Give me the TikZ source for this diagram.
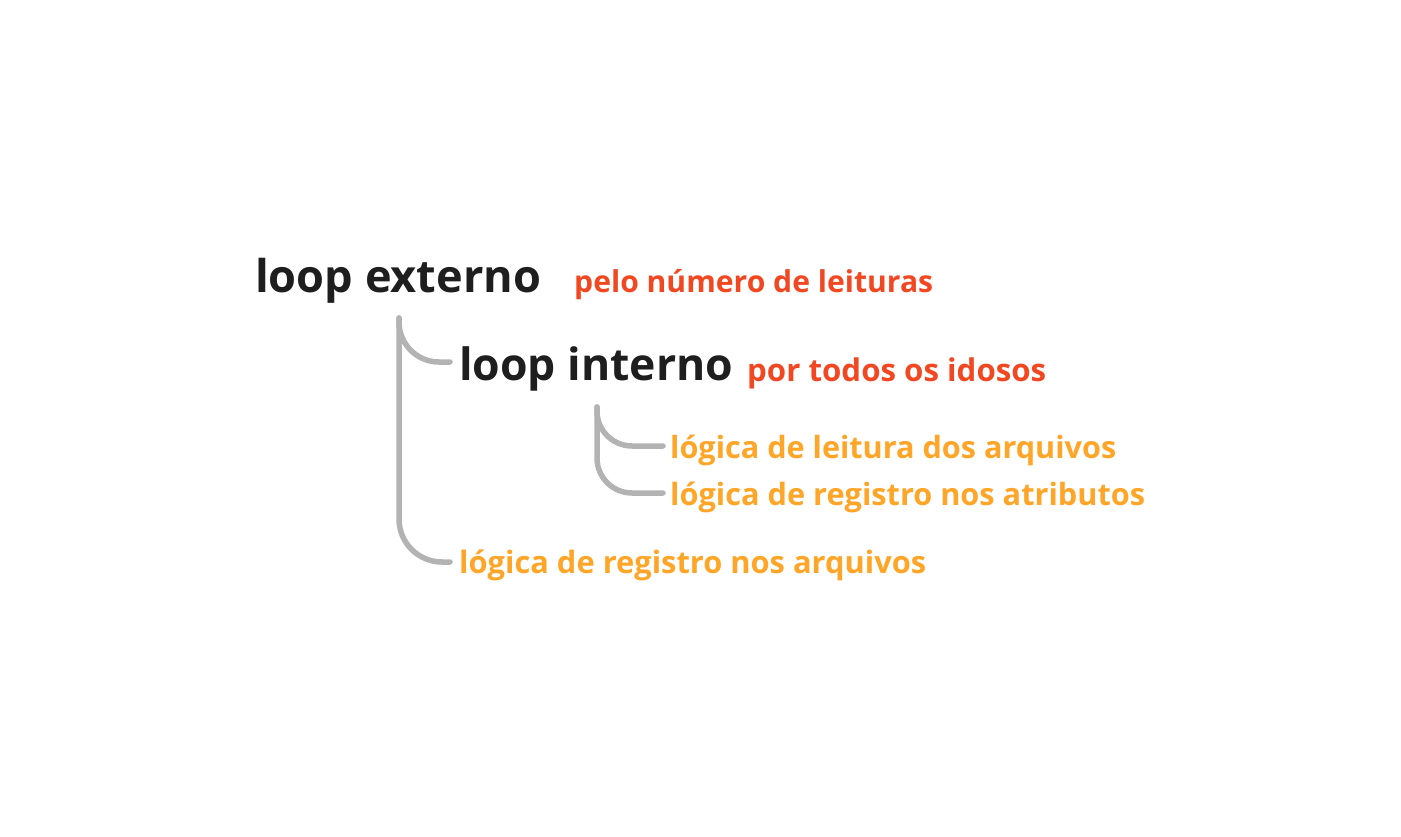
\documentclass[tikz,border=0pt]{standalone}
\usepackage{fontspec}
\setmainfont{Open Sans}
\definecolor{inkblack}{HTML}{1E1E1E}
\definecolor{inkred}{HTML}{F24822}
\definecolor{inkorange}{HTML}{FFA629}
\definecolor{conngray}{HTML}{B3B3B3}
\newcommand\fitw[2]{\resizebox{#1pt}{!}{#2}}
\begin{document}
\begin{tikzpicture}[x=1pt,y=-1pt,
  txt/.style={inner sep=0pt, anchor=base west, font=\bfseries},
  head/.style={txt, text=inkblack},
  note/.style={txt, text=inkred},
  action/.style={txt, text=inkorange},
  conn/.style={draw=conngray, line width=5.5pt, line cap=round}]
\useasboundingbox[fill=white] (0,0) rectangle (1401,837);
\node[head] (le) at (255,292) {\fitw{286}{loop externo}};
\node[note] (pe) at (574,292) {\fitw{359}{pelo número de leituras}};
\node[head] (li) at (459,381) {\fitw{274}{loop interno}};
\node[note] (pt) at (747,381) {\fitw{299}{por todos os idosos}};
\node[action] (la) at (670,458) {\fitw{446}{lógica de leitura dos arquivos}};
\node[action] (lr) at (670,505) {\fitw{475}{lógica de registro nos atributos}};
\node[action] (ln) at (459,573) {\fitw{467}{lógica de registro nos arquivos}};
\coordinate (ot) at (399,318);
\coordinate (it) at (597,407);
\draw[conn, rounded corners=40pt] (ot) |- ([shift={(-9,-19)}]li.base west);
\draw[conn, rounded corners=43pt] (ot) |- ([shift={(-9,-11)}]ln.base west);
\draw[conn, rounded corners=35pt] (it) |- ([shift={(-7,-12)}]la.base west);
\draw[conn, rounded corners=35pt] (it) |- ([shift={(-7,-12)}]lr.base west);
\end{tikzpicture}
\end{document}
